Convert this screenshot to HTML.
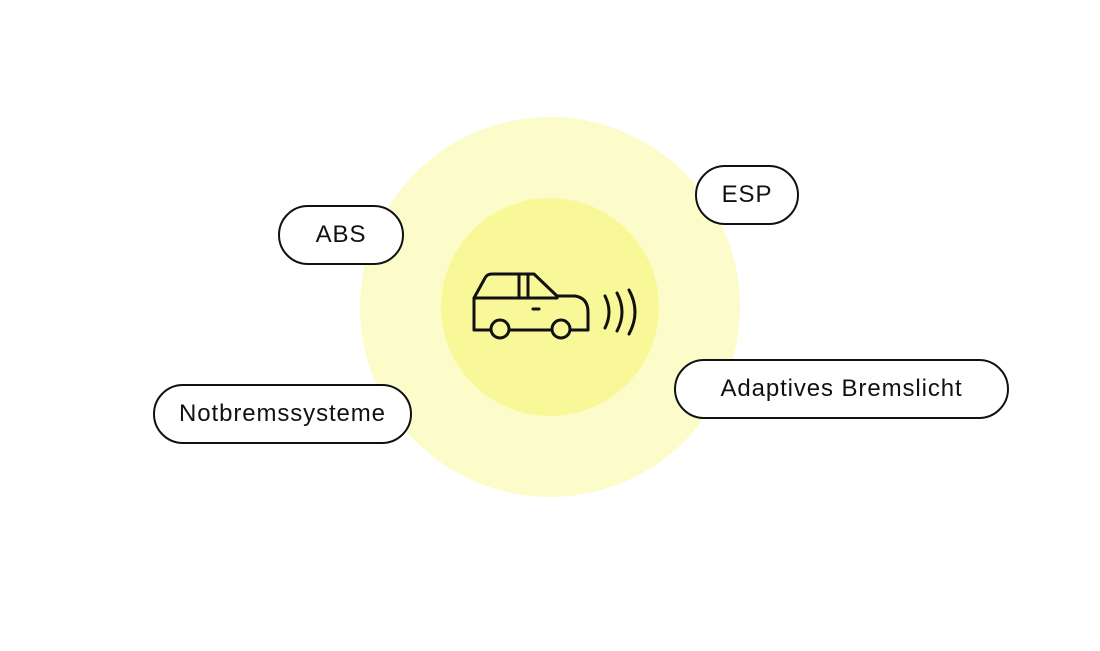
<!DOCTYPE html>
<html><head><style>
body{margin:0;width:1100px;height:651px;background:#fff;position:relative;overflow:hidden;font-family:"Liberation Sans",sans-serif}
.c{position:absolute;border-radius:50%}
.p{position:absolute;box-sizing:border-box;border:2px solid #111;border-radius:30px;background:#fff;display:flex;align-items:center;justify-content:center;font-size:24px;color:#111;letter-spacing:0.9px}
</style></head><body>
<div class="c" style="left:360px;top:117px;width:380px;height:380px;background:#fcfcca"></div>
<div class="c" style="left:441px;top:198px;width:218px;height:218px;background:#f8f898"></div>
<svg style="position:absolute;left:0;top:0" width="1100" height="651">
<g fill="none" stroke="#111" stroke-width="3" stroke-linejoin="round" stroke-linecap="round">
<path d="M490 330 H474 V298 L485 278 Q487 274 492 274 H534 L557 296 H575 Q588 298 588 312 V330 H571"/>
<path d="M551 330 H510"/>
<path d="M474 298 H557"/>
<path d="M519 274 V298"/>
<path d="M528 274 V298"/>
<circle cx="500" cy="329" r="9"/>
<circle cx="561" cy="329" r="9"/>
<path d="M533 309 H539"/>
<path d="M605 296 Q613 312 605 328"/>
<path d="M617 293 Q627 312 617 331"/>
<path d="M629 290 Q641 312 629 334"/>
</g></svg>
<div class="p" style="left:278px;top:205px;width:126px;height:60px">ABS</div>
<div class="p" style="left:695px;top:165px;width:104px;height:60px">ESP</div>
<div class="p" style="left:153px;top:384px;width:259px;height:60px">Notbremssysteme</div>
<div class="p" style="left:674px;top:359px;width:335px;height:60px">Adaptives Bremslicht</div>
</body></html>
